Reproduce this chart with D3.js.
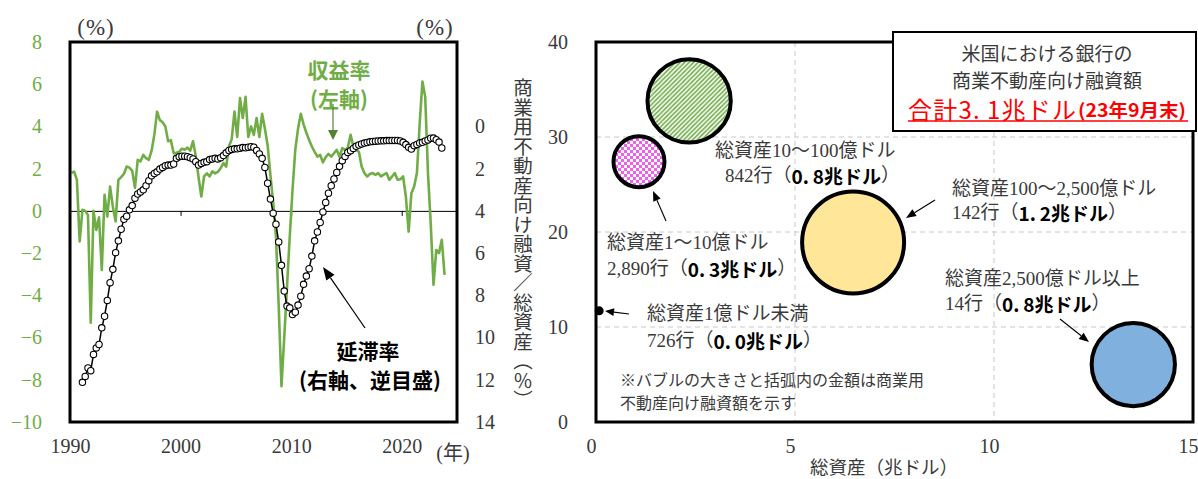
<!DOCTYPE html>
<html>
<head>
<meta charset="utf-8">
<script src="https://cdn.jsdelivr.net/npm/d3@7"></script>
<style>
  body { margin: 0; background: #fff; }
  svg { display: block; }
</style>
</head>
<body>
<svg id="chart" width="1198" height="479"></svg>
<script>
// ---- Left panel: quarterly series ----
// CRE loan yield (left axis, %), quarterly from 1990Q1
const yieldStartYear = 1990;
const yieldRate = [
  1.8, 1.86, 1.47, -1.45, 0.05, 0.0, -0.2, -5.3,
  0.0, -0.9, -0.3, -2.8, 0.76, -0.27, 1.15, 0.2, -0.5, 1.47, 1.6, 1.75,
  2.1, 2.05, 1.9, 1.09, 2.42, 2.35, 2.65, 2.5, 2.42, 2.84, 3.6, 4.7,
  4.3, 4.2, 4.0, 3.3, 3.35, 2.73, 2.75, 2.8, 2.95, 2.9, 3.0, 2.85, 3.3, 2.6, 1.6, 0.68,
  1.63, 1.78, 1.63, 1.87, 1.78, 1.85, 2.02, 2.26, 2.1, 3.05, 3.4, 4.7, 3.5, 5.34, 4.4,
  5.4, 3.5, 4.0, 3.6, 4.4, 3.5, 4.6, 3.9, 3.1, 1.7, 0.4, -1.2, -4.5, -8.3,
  -6.0, -3.6, -1.2, 1.0, 2.9, 3.9, 4.6, 4.1, 3.7, 3.36, 3.05, 2.8, 2.57, 2.65, 2.3,
  2.55, 2.7, 2.57, 2.73, 2.89, 2.57, 2.97, 2.89, 3.0, 3.6, 3.05, 2.89, 2.8, 2.1, 1.79,
  1.63, 1.75, 1.79, 1.71, 1.79, 1.63, 1.72, 1.79, 1.47, 1.63, 1.79, 1.47, 1.5, 1.63,
  0.68, -0.98, 0.84, 1.16, 1.79, 4.15, 6.13,
  5.4, 1.79, -0.6, -3.5, -1.85, -2.0, -1.37, -3.03
];
// CRE loan delinquency rate (right axis, inverted, %), quarterly from 1991Q1
const delinqStartYear = 1991;
const delinqRate = [
  12.12, 11.84, 11.44, 11.57, 10.8, 10.49, 10.33, 9.54, 8.99, 8.24,
  7.4, 6.77, 5.98, 5.42, 4.87, 4.4, 4.25, 3.95, 3.75, 3.4,
  3.2, 3.1, 3.0, 2.81, 2.57, 2.34, 2.23, 2.15, 2.02, 1.94,
  1.86, 1.83, 1.83, 1.78, 1.51, 1.43, 1.41, 1.41, 1.43, 1.48,
  1.54, 1.67, 1.83, 1.75, 1.7, 1.67, 1.57, 1.54, 1.51, 1.54,
  1.48, 1.38, 1.25, 1.14, 1.09, 1.06, 1.06, 1.03, 1.0, 1.01,
  0.98, 0.96, 0.98, 1.14, 1.3, 1.51, 1.94, 2.69, 3.44, 4.11,
  4.63, 5.47, 6.58, 7.8, 8.51, 8.59, 8.91, 8.8, 8.46, 8.04,
  7.48, 7.09, 6.74, 6.14, 5.42, 5.0, 4.55, 4.05, 3.6, 3.16,
  2.81, 2.49, 2.18, 1.89, 1.62, 1.42, 1.23, 1.15, 1.04, 0.94,
  0.88, 0.83, 0.79, 0.76, 0.73, 0.71, 0.7, 0.69, 0.68, 0.68,
  0.67, 0.67, 0.66, 0.66, 0.66, 0.69, 0.75, 0.86, 0.99, 1.07,
  0.91, 0.85, 0.78, 0.75, 0.69, 0.64, 0.56, 0.55, 0.63, 0.74,
  1.02
];
const leftTicks = [-10, -8, -6, -4, -2, 0, 2, 4, 6, 8];
const rightTicks = [0, 2, 4, 6, 8, 10, 12, 14];
const yearTicks = [1990, 2000, 2010, 2020];

// ---- Right panel: banks by asset size ----
const sizeGroups = ["総資産1億ドル未満", "総資産1〜10億ドル", "総資産10〜100億ドル", "総資産100〜2,500億ドル", "総資産2,500億ドル以上"];
const bankCounts = ["726", "2,890", "842", "142", "14"];
const totalAssets = [0.08, 1.08, 2.34, 6.46, 13.5];   // 兆ドル
const creShare = [11.7, 27.4, 33.8, 18.9, 6.05];      // %
const creLoans = [0.0, 0.3, 0.8, 1.2, 0.8];           // 兆ドル
const assetTicks = [0, 5, 10, 15];
const shareTicks = [0, 10, 20, 30, 40];

const bubbleFills = ["#000000", "url(#checker)", "url(#stripes)", "#ffe699", "#80b0de"];

const SERIF = "'Liberation Serif','Noto Sans CJK JP',serif";
const SANS = "'Noto Sans CJK JP',sans-serif";
const GREEN = "#70ad47";
const TEXT = "#3a3a3a";

const svg = d3.select("#chart");
const defs = svg.append("defs");

// fill patterns for two of the bubbles
const pc = defs.append("pattern").attr("id", "checker")
  .attr("patternUnits", "userSpaceOnUse").attr("width", 6).attr("height", 6);
pc.append("rect").attr("width", 6).attr("height", 6).attr("fill", "#fff");
pc.append("rect").attr("width", 3).attr("height", 3).attr("fill", "#f05ef0");
pc.append("rect").attr("x", 3).attr("y", 3).attr("width", 3).attr("height", 3).attr("fill", "#f05ef0");

const ps = defs.append("pattern").attr("id", "stripes")
  .attr("patternUnits", "userSpaceOnUse").attr("width", 4.5).attr("height", 4.5);
ps.append("rect").attr("width", 4.5).attr("height", 4.5).attr("fill", "#fff");
ps.append("path").attr("d", "M-1.125,1.125L1.125,-1.125M0,4.5L4.5,0M3.375,5.625L5.625,3.375")
  .attr("stroke", GREEN).attr("stroke-width", 1.6);

function arrow(g, x1, y1, x2, y2, color, len, wid, sw) {
  const a = Math.atan2(y2 - y1, x2 - x1);
  const bx = x2 - len * Math.cos(a), by = y2 - len * Math.sin(a);
  g.append("line").attr("x1", x1).attr("y1", y1).attr("x2", bx).attr("y2", by)
    .attr("stroke", color).attr("stroke-width", sw);
  const px = -Math.sin(a) * wid / 2, py = Math.cos(a) * wid / 2;
  g.append("path")
    .attr("d", `M${x2},${y2}L${bx + px},${by + py}L${bx - px},${by - py}Z`)
    .attr("fill", color);
}

// ================= Left panel =================
const xT = d3.scaleLinear().domain([1990, 2025]).range([70, 457]);
const yL = d3.scaleLinear().domain([-10, 8]).range([422, 42]);
const yR = d3.scaleLinear().domain([-4, 14]).range([42, 422]);

const yieldPts = yieldRate.map((v, i) => ({ t: yieldStartYear + 0.125 + i * 0.25, v }));
const delinqPts = delinqRate.map((v, i) => ({ t: delinqStartYear + 0.125 + i * 0.25, v }));

const left = svg.append("g");

// zero line with decade ticks
const zero = left.append("g").attr("transform", `translate(0,${yL(0)})`)
  .call(d3.axisBottom(xT).tickValues(yearTicks.slice(1)).tickSize(5).tickSizeOuter(0).tickFormat(""));
zero.selectAll("path,line").attr("stroke", "#000").attr("stroke-width", 1);

left.append("path").datum(yieldPts)
  .attr("fill", "none").attr("stroke", GREEN).attr("stroke-width", 2.6)
  .attr("stroke-linejoin", "round")
  .attr("d", d3.line().x(d => xT(d.t)).y(d => yL(d.v)));

left.append("path").datum(delinqPts)
  .attr("fill", "none").attr("stroke", "#000").attr("stroke-width", 1.5)
  .attr("d", d3.line().x(d => xT(d.t)).y(d => yR(d.v)));

left.selectAll("circle.dq").data(delinqPts).join("circle")
  .attr("class", "dq")
  .attr("cx", d => xT(d.t)).attr("cy", d => yR(d.v)).attr("r", 3.2)
  .attr("fill", "#fff").attr("stroke", "#000").attr("stroke-width", 1.1);

left.append("rect").attr("x", 70).attr("y", 42).attr("width", 387).attr("height", 380)
  .attr("fill", "none").attr("stroke", "#000").attr("stroke-width", 3);

const axL = left.append("g").attr("transform", "translate(70,0)")
  .call(d3.axisLeft(yL).tickValues(leftTicks).tickSize(0).tickPadding(28)
    .tickFormat(d => d < 0 ? "\u2212" + Math.abs(d) : String(d)));
axL.select(".domain").remove();
axL.selectAll("text").attr("font-family", SERIF).attr("font-size", 20).attr("fill", GREEN);

const axR = left.append("g").attr("transform", "translate(457,0)")
  .call(d3.axisRight(yR).tickValues(rightTicks).tickSize(0).tickPadding(18));
axR.select(".domain").remove();
axR.selectAll("text").attr("font-family", SERIF).attr("font-size", 20).attr("fill", TEXT);

const axX = left.append("g").attr("transform", "translate(0,422)")
  .call(d3.axisBottom(xT).tickValues(yearTicks).tickSize(0).tickPadding(17).tickFormat(d3.format("d")));
axX.select(".domain").remove();
axX.selectAll("text").attr("font-family", SERIF).attr("font-size", 20).attr("fill", TEXT);

[[96, 27, "(%)"], [435, 27, "(%)"]].forEach(([x, y, s]) => {
  left.append("text").attr("x", x).attr("y", y).attr("text-anchor", "middle")
    .attr("dominant-baseline", "central").attr("font-family", SERIF).attr("font-size", 23)
    .attr("letter-spacing", 1).attr("fill", TEXT).text(s);
});
left.append("text").attr("x", 453).attr("y", 453).attr("text-anchor", "middle")
  .attr("dominant-baseline", "central").attr("font-family", SERIF).attr("font-size", 20)
  .attr("fill", TEXT).text("(年)");

left.append("text").attr("x", 523).attr("y", 78)
  .style("writing-mode", "vertical-rl")
  .attr("font-family", SANS).attr("font-size", 19.5).attr("fill", TEXT)
  .text("商業用不動産向け融資／総資産（％）");

// series annotations
left.append("text").attr("x", 339).attr("y", 69).attr("text-anchor", "middle")
  .attr("dominant-baseline", "central").attr("font-family", SANS).attr("font-weight", 700)
  .attr("font-size", 21).attr("fill", GREEN).text("収益率");
left.append("text").attr("x", 339).attr("y", 98).attr("text-anchor", "middle")
  .attr("dominant-baseline", "central").attr("font-family", SANS).attr("font-weight", 700)
  .attr("font-size", 21).attr("fill", GREEN).text("(左軸)");
arrow(left, 333, 104, 333, 140, "#548235", 10, 10, 1.2);

left.append("text").attr("x", 368).attr("y", 350).attr("text-anchor", "middle")
  .attr("dominant-baseline", "central").attr("font-family", SANS).attr("font-weight", 700)
  .attr("font-size", 21).attr("fill", "#000").text("延滞率");
left.append("text").attr("x", 370).attr("y", 379).attr("text-anchor", "middle")
  .attr("dominant-baseline", "central").attr("font-family", SANS).attr("font-weight", 700)
  .attr("font-size", 21).attr("fill", "#000").text("(右軸、逆目盛)");
arrow(left, 365, 328, 323, 267, "#000", 13, 10, 1.2);

// ================= Right panel =================
const bx = d3.scaleLinear().domain([0, 15]).range([596, 1193]);
const by = d3.scaleLinear().domain([0, 40]).range([422, 42]);
const br = d3.scaleSqrt().domain([0, 1.2]).range([0, 51]);

const right = svg.append("g");

// dashed grid
right.selectAll("line.gx").data([5, 10]).join("line").attr("class", "gx")
  .attr("x1", d => bx(d)).attr("x2", d => bx(d)).attr("y1", 42).attr("y2", 422)
  .attr("stroke", "#c8c8c8").attr("stroke-width", 1).attr("stroke-dasharray", "5,4");
right.selectAll("line.gy").data([10, 20, 30]).join("line").attr("class", "gy")
  .attr("y1", d => by(d)).attr("y2", d => by(d)).attr("x1", 596).attr("x2", 1193)
  .attr("stroke", "#c8c8c8").attr("stroke-width", 1).attr("stroke-dasharray", "5,4");

right.append("rect").attr("x", 596).attr("y", 42).attr("width", 597).attr("height", 380)
  .attr("fill", "none").attr("stroke", "#000").attr("stroke-width", 3);

const bubbles = sizeGroups.map((g, i) => ({
  name: g, count: bankCounts[i], x: totalAssets[i], y: creShare[i], v: creLoans[i], fill: bubbleFills[i]
}));
right.selectAll("circle.bb").data(bubbles).join("circle").attr("class", "bb")
  .attr("cx", d => bx(d.x)).attr("cy", d => by(d.y))
  .attr("r", d => Math.max(br(d.v), 2.5))
  .attr("fill", d => d.fill).attr("stroke", "#000").attr("stroke-width", 4);

const axBX = right.append("g").attr("transform", "translate(0,422)")
  .call(d3.axisBottom(bx).tickValues(assetTicks).tickSize(0).tickPadding(17));
axBX.select(".domain").remove();
axBX.selectAll("text").attr("font-family", SERIF).attr("font-size", 20).attr("fill", TEXT)
  .attr("transform", "translate(-5,0)");

const axBY = right.append("g").attr("transform", "translate(596,0)")
  .call(d3.axisLeft(by).tickValues(shareTicks).tickSize(0).tickPadding(28));
axBY.select(".domain").remove();
axBY.selectAll("text").attr("font-family", SERIF).attr("font-size", 20).attr("fill", TEXT);

right.append("text").attr("x", 884).attr("y", 468).attr("text-anchor", "middle")
  .attr("dominant-baseline", "central").attr("font-family", SERIF).attr("font-size", 18.5)
  .attr("fill", TEXT).text("総資産（兆ドル）");

// bubble labels
const fmtAmt = v => d3.format(".1f")(v).replace(".", ".\u2009");
const labelAt = [
  { x: 647, y1: 313, y2: 340 },
  { x: 607, y1: 242, y2: 268 },
  { x: 715, y1: 150, y2: 175, x2: 725 },
  { x: 952, y1: 188, y2: 212 },
  { x: 945, y1: 278, y2: 303 }
];
bubbles.forEach((d, i) => {
  const p = labelAt[i];
  right.append("text").attr("x", p.x).attr("y", p.y1).attr("dominant-baseline", "central")
    .attr("font-family", SERIF).attr("font-size", 19).attr("fill", TEXT).text(d.name);
  const t = right.append("text").attr("x", p.x2 || p.x).attr("y", p.y2).attr("dominant-baseline", "central")
    .attr("font-family", SERIF).attr("font-size", 19).attr("fill", TEXT);
  t.append("tspan").text(d.count + "行（");
  t.append("tspan").attr("font-weight", 700).attr("fill", "#000")
    .attr("font-family", SANS).text(fmtAmt(d.v) + "兆ドル");
  t.append("tspan").text("）");
});
arrow(right, 629, 314, 605, 311, "#000", 9, 8, 1.1);
arrow(right, 666, 221, 653, 191, "#000", 10, 8, 1.1);
arrow(right, 935, 200, 906, 218, "#000", 10, 8, 1.1);
arrow(right, 1060, 319, 1089, 342, "#000", 10, 8, 1.1);

right.append("text").attr("x", 620).attr("y", 379).attr("dominant-baseline", "central")
  .attr("font-family", SANS).attr("font-size", 16).attr("fill", TEXT)
  .text("※バブルの大きさと括弧内の金額は商業用");
right.append("text").attr("x", 620).attr("y", 402).attr("dominant-baseline", "central")
  .attr("font-family", SANS).attr("font-size", 16).attr("fill", TEXT)
  .text("不動産向け融資額を示す");

// headline box
right.append("rect").attr("x", 893).attr("y", 32).attr("width", 303).attr("height", 99)
  .attr("fill", "#fff").attr("stroke", "#000").attr("stroke-width", 2);
right.append("text").attr("x", 1047).attr("y", 52).attr("text-anchor", "middle")
  .attr("dominant-baseline", "central").attr("font-family", SANS).attr("font-size", 19)
  .attr("fill", TEXT).text("米国における銀行の");
right.append("text").attr("x", 1047).attr("y", 79).attr("text-anchor", "middle")
  .attr("dominant-baseline", "central").attr("font-family", SANS).attr("font-size", 19)
  .attr("fill", TEXT).text("商業不動産向け融資額");
const totalLoans = d3.sum(creLoans);
right.append("text").attr("x", 908).attr("y", 108).attr("dominant-baseline", "central")
  .attr("font-family", SANS).attr("font-size", 24).attr("fill", "#ff0000")
  .attr("textLength", 168).attr("lengthAdjust", "spacing")
  .text("合計" + fmtAmt(totalLoans) + "兆ドル");
right.append("text").attr("x", 1078).attr("y", 109).attr("dominant-baseline", "central")
  .attr("font-family", SANS).attr("font-size", 18).attr("font-weight", 700).attr("fill", "#ff0000")
  .attr("textLength", 108).attr("lengthAdjust", "spacingAndGlyphs")
  .text("(23年9月末)");
right.append("line").attr("x1", 908).attr("x2", 1188).attr("y1", 121).attr("y2", 121)
  .attr("stroke", "#ff0000").attr("stroke-width", 1.5);
</script>
</body>
</html>
